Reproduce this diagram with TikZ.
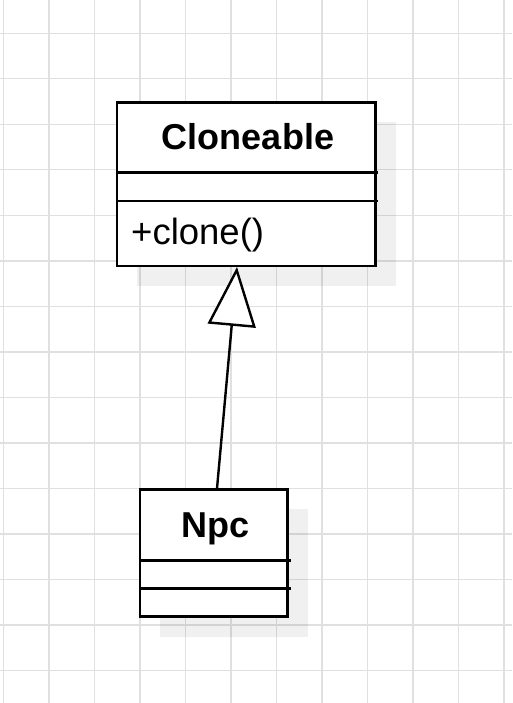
\documentclass[tikz,border=0pt]{standalone}
\usepackage{fontspec}
\setmainfont{Liberation Sans}
\usetikzlibrary{arrows.meta}
\definecolor{gridc}{HTML}{E0E0E0}
\tikzset{
  gridline/.style={draw=gridc, line width=1.4pt},
  umlbox/.style={draw=black, fill=white, line width=2.6pt, inner sep=0pt, rectangle},
  shadowbox/.style={fill=black, opacity=0.06},
  divider/.style={draw=black, line width=2.6pt},
  titletext/.style={font=\fontsize{36}{42}\selectfont\bfseries, inner sep=0pt, anchor=base},
  membertext/.style={font=\fontsize{36.5}{42}\selectfont, inner sep=0pt, anchor=base west},
  inherit/.style={draw=black, line width=2.4pt, -{Triangle[open, fill=white, length=59pt, width=48pt]}}
}
\begin{document}
\begin{tikzpicture}[x=1pt, y=-1pt]
\useasboundingbox (0,0) rectangle (512,703);
\fill[white] (0,0) rectangle (512,703);
% grid
\foreach \k in {0,...,11} { \draw[gridline] ({3.5+45.5*\k},0) -- ({3.5+45.5*\k},703); }
\foreach \k in {0,...,14} { \draw[gridline] (0,{33.3+45.5*\k}) -- (512,{33.3+45.5*\k}); }
% shadows
\fill[shadowbox] (137,122.3) rectangle (395.7,286);
\fill[shadowbox] (160,509.3) rectangle (307.7,636.7);
% Cloneable class
\node[umlbox, minimum width=258.7pt, minimum height=163.7pt] (cl) at (246.4,184.2) {};
\coordinate (cld1a) at (117,172.3);
\coordinate (cld1b) at (378,172.3);
\coordinate (cld2a) at (117,201);
\coordinate (cld2b) at (378,201);
\draw[divider] (cld1a) -- (cld1b);
\draw[divider] (cld2a) -- (cld2b);
\node[titletext] (cltitle) at (248,150) {Cloneable};
\node[membertext] (clmeth) at (131,244) {+clone()};
% Npc class
\node[umlbox, minimum width=147.7pt, minimum height=127.4pt] (npc) at (213.9,553) {};
\coordinate (npd1a) at (140,560.3);
\coordinate (npd1b) at (290.5,560.3);
\coordinate (npd2a) at (140,588.7);
\coordinate (npd2b) at (290.5,588.7);
\draw[divider] (npd1a) -- (npd1b);
\draw[divider] (npd2a) -- (npd2b);
\node[titletext] (nptitle) at (216,537.7) {Npc};
% generalization
\coordinate (genstart) at (217,488.5);
\coordinate (genend) at (237,267);
\draw[inherit] (genstart) -- (genend);
\end{tikzpicture}
\end{document}
